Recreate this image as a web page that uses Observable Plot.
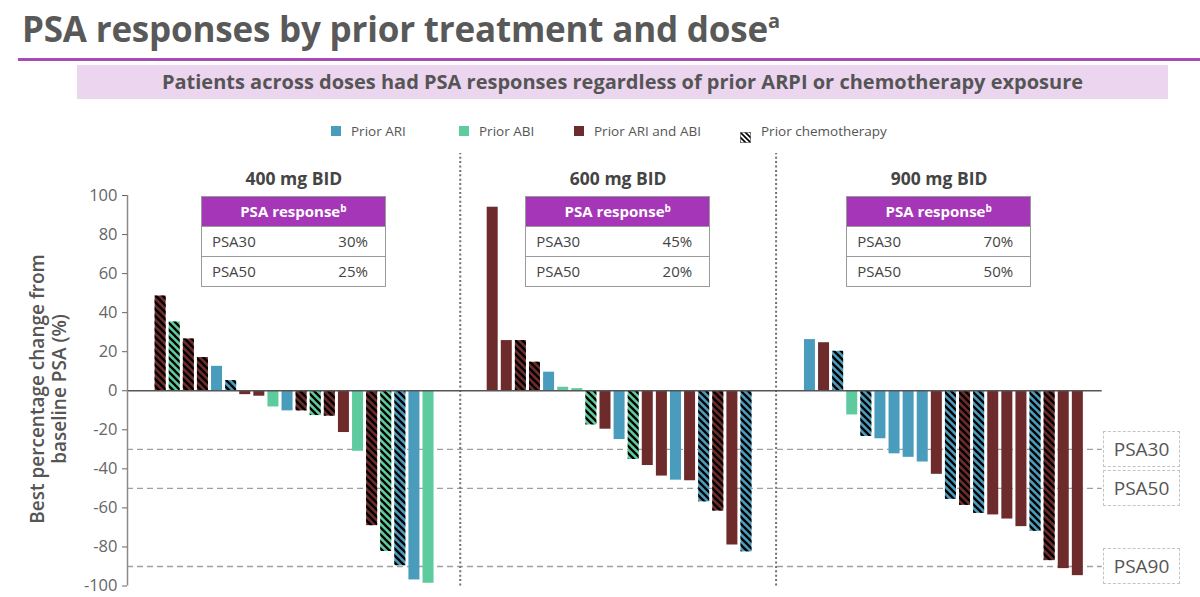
<!DOCTYPE html>
<html><head><meta charset="utf-8">
<script src="https://cdn.jsdelivr.net/npm/d3@7"></script>
<script src="https://cdn.jsdelivr.net/npm/@observablehq/plot@0.6"></script>
<style>
body{margin:0;background:#fff;font-family:"Open Sans",Lato,sans-serif;color:#555;}
#page{position:relative;width:1200px;height:597px;overflow:hidden;background:#fff;}
#title{position:absolute;left:22px;top:5px;font-size:35px;font-weight:700;color:#595959;white-space:nowrap;letter-spacing:-0.2px;}
#title sup{font-size:20px;vertical-align:top;position:relative;top:2px;}
#rule{position:absolute;left:18px;right:0;top:58px;height:3px;background:#a84bb8;}
#sub{position:absolute;left:77px;width:1091px;top:65px;height:34px;background:#ecd5ef;font-size:20px;font-weight:700;color:#555;text-align:center;line-height:33px;white-space:nowrap;}
.leg{position:absolute;top:121px;font-size:13.5px;color:#555;white-space:nowrap;line-height:20px;}
.sw{position:absolute;width:10px;height:10px;top:126px;}
#chart{position:absolute;left:0;top:140px;}
.tbl{position:absolute;width:185px;border:1px solid #9a9a9a;box-sizing:border-box;background:#fff;font-size:15px;color:#444;}
.tbl .hd{height:29px;background:#a536b7;color:#fff;font-weight:700;font-size:15px;text-align:center;line-height:29px;}
.tbl .hd sup{font-size:10px;vertical-align:top;position:relative;top:-3px;}
.tbl .rw{height:29px;line-height:29px;border-top:1px solid #9a9a9a;position:relative;padding-left:10px;}
.tbl .rw span{position:absolute;right:17px;}
.ref{position:absolute;left:1103px;width:77px;height:36px;box-sizing:border-box;border:1px dashed #c4c4c4;font-size:19px;color:#555;text-align:center;line-height:34px;background:#fff;}
#ylab{position:absolute;left:48px;top:389px;transform:translate(-50%,-50%) rotate(-90deg);font-size:19px;font-weight:600;color:#555;text-align:center;line-height:22px;white-space:nowrap;}
</style></head>
<body><div id="page">
<div id="title">PSA responses by prior treatment and dose<sup>a</sup></div>
<div id="rule"></div>
<div id="sub">Patients across doses had PSA responses regardless of prior ARPI or chemotherapy exposure</div>
<div id="ylab">Best percentage change from<br>baseline PSA (%)</div>
<div id="chart"></div>
</div>
<script>
// ---- data ----
const doses = ["400 mg BID", "600 mg BID", "900 mg BID"];
const priorCategories = ["Prior ARI", "Prior ABI", "Prior ARI and ABI"];
const priorColors = ["#4a9cbd", "#5ecb9e", "#6d2b2b"];
const chemoLabel = "Prior chemotherapy";

const values400 = [48.5, 35.2, 26.5, 17, 12.5, 5.2, -2, -2.8, -8.3, -10.3, -10.3, -12.7, -13, -21.4, -31, -69.1, -82.3, -89.6, -96.9, -98.6];
const prior400 = ["Prior ARI and ABI", "Prior ABI", "Prior ARI and ABI", "Prior ARI and ABI", "Prior ARI", "Prior ARI", "Prior ARI and ABI", "Prior ARI and ABI", "Prior ABI", "Prior ARI", "Prior ARI and ABI", "Prior ABI", "Prior ARI and ABI", "Prior ARI and ABI", "Prior ABI", "Prior ARI and ABI", "Prior ABI", "Prior ARI", "Prior ARI", "Prior ABI"];
const chemo400 = [1, 1, 1, 1, 0, 1, 0, 0, 0, 0, 1, 1, 1, 0, 0, 1, 1, 1, 0, 0];

const values600 = [94, 25.7, 25.7, 14.6, 9.5, 1.8, 1.1, -17.5, -19.7, -25, -35.2, -38.3, -43.7, -45.8, -46.1, -56.9, -61.6, -79, -82.5];
const prior600 = ["Prior ARI and ABI", "Prior ARI and ABI", "Prior ARI and ABI", "Prior ARI and ABI", "Prior ARI", "Prior ABI", "Prior ABI", "Prior ABI", "Prior ARI and ABI", "Prior ARI", "Prior ABI", "Prior ARI and ABI", "Prior ARI and ABI", "Prior ARI", "Prior ARI and ABI", "Prior ARI", "Prior ARI and ABI", "Prior ARI and ABI", "Prior ARI"];
const chemo600 = [0, 0, 1, 1, 0, 0, 0, 1, 0, 0, 1, 0, 0, 0, 0, 1, 1, 0, 1];

const values900 = [26.2, 24.6, 20.2, -12.4, -23.4, -24.6, -32.3, -34.1, -36.5, -42.8, -55.6, -58.7, -62.8, -63.6, -65.7, -69.6, -72, -87, -91.1, -94.7];
const prior900 = ["Prior ARI", "Prior ARI and ABI", "Prior ARI", "Prior ABI", "Prior ARI", "Prior ARI", "Prior ARI", "Prior ARI", "Prior ARI", "Prior ARI and ABI", "Prior ARI", "Prior ARI and ABI", "Prior ARI", "Prior ARI and ABI", "Prior ARI and ABI", "Prior ARI and ABI", "Prior ARI", "Prior ARI and ABI", "Prior ARI and ABI", "Prior ARI and ABI"];
const chemo900 = [0, 0, 1, 0, 1, 0, 0, 0, 0, 0, 1, 1, 1, 0, 0, 0, 1, 1, 0, 0];

const tableHeader = "PSA response";
const psa30 = ["30%", "45%", "70%"];
const psa50 = ["25%", "20%", "50%"];
const refLevels = [-30, -50, -90];
const refLabels = ["PSA30", "PSA50", "PSA90"];
const yTicks = [100, 80, 60, 40, 20, 0, -20, -40, -60, -80, -100];

// ---- layout ----
const W = 1200, H = 457, mL = 127, mR = 98.3, mT = 55, mB = 11.5;
const pitch = 14.1;
const xMax = (W - mL - mR) / pitch;
const panelFirst = [2.35, 25.9, 48.4];
const dividers = [23.6, 46.0];
const bounds = [0, ...dividers, xMax];
const barHalf = 0.39;

const panels = [[values400, prior400, chemo400], [values600, prior600, chemo600], [values900, prior900, chemo900]];
const rows = panels.flatMap(([v, p, c], k) => v.map((value, i) => ({
  dose: doses[k], value, prior: p[i], chemo: c[i] === 1, xc: panelFirst[k] + i
})));

const chart = Plot.plot({
  width: W, height: H, marginLeft: mL, marginRight: mR, marginTop: mT, marginBottom: mB,
  x: {domain: [0, xMax], axis: null},
  y: {domain: [-100, 100], axis: null},
  color: {domain: priorCategories, range: priorColors},
  style: {fontFamily: "'Open Sans', Lato, sans-serif", color: "#555", background: "transparent", overflow: "visible"},
  marks: [
    Plot.ruleY(refLevels, {x1: 0, x2: xMax, stroke: "#a0a0a0", strokeWidth: 1.3, strokeDasharray: "6,4"}),
    Plot.ruleX(dividers, {y1: -100, y2: 121.5, stroke: "#707070", strokeWidth: 2, strokeDasharray: "2,2.4"}),
    Plot.rect(rows, {x1: d => d.xc - barHalf, x2: d => d.xc + barHalf, y1: 0, y2: "value", fill: "prior"}),
    Plot.rect(rows.filter(d => d.chemo), {x1: d => d.xc - barHalf, x2: d => d.xc + barHalf, y1: 0, y2: "value", fill: "url(#hatch)"}),
    Plot.ruleY([0], {x1: 0, x2: xMax, stroke: "#555", strokeWidth: 1.5}),
    Plot.ruleX([0], {y1: -100, y2: 100, stroke: "#8a8a8a", strokeWidth: 1.5}),
    Plot.axisY(yTicks, {label: null, tickSize: 5, tickPadding: 5, fontSize: 16.5, tickFormat: d => String(d), color: "#666"}),
    Plot.text(doses, {x: (d, i) => (bounds[i] + bounds[i + 1]) / 2, frameAnchor: "top", dy: -23, fontSize: 17.5, fontWeight: "bold", fill: "#444"})
  ]
});

chart.insertAdjacentHTML("afterbegin",
  '<defs><pattern id="hatch" patternUnits="userSpaceOnUse" width="7" height="7">' +
  '<path d="M-1,-1L8,8M-1,6L1,8M6,-1L8,1" stroke="#000" stroke-width="2.3" fill="none"/></pattern></defs>');
document.getElementById("chart").appendChild(chart);

const page = document.getElementById("page");
const sx = chart.scale("x"), sy = chart.scale("y");
const top0 = 140;

// tables
doses.forEach((d, i) => {
  const cx = sx.apply((bounds[i] + bounds[i + 1]) / 2);
  const t = document.createElement("div");
  t.className = "tbl";
  t.style.left = (cx - 92.5) + "px";
  t.style.top = (top0 + sy.apply(100) + 1) + "px";
  t.innerHTML = `<div class="hd">${tableHeader}<sup>b</sup></div>` +
    `<div class="rw">PSA30<span>${psa30[i]}</span></div>` +
    `<div class="rw">PSA50<span>${psa50[i]}</span></div>`;
  page.appendChild(t);
});

// reference labels
refLevels.forEach((v, i) => {
  const b = document.createElement("div");
  b.className = "ref";
  b.style.top = (top0 + sy.apply(v) - 18) + "px";
  b.textContent = refLabels[i];
  page.appendChild(b);
});

// legend
const legX = [331, 459, 574];
priorCategories.forEach((c, i) => {
  const s = document.createElement("div");
  s.className = "sw"; s.style.left = legX[i] + "px"; s.style.background = priorColors[i];
  page.appendChild(s);
  const l = document.createElement("div");
  l.className = "leg"; l.style.left = (legX[i] + 20) + "px"; l.textContent = c;
  page.appendChild(l);
});
const hs = document.createElement("div");
hs.className = "sw"; hs.style.left = "740px";
hs.innerHTML = '<svg width="11" height="11"><defs><pattern id="hatchL" patternUnits="userSpaceOnUse" width="5" height="5"><path d="M-1,-1L6,6M-1,4L1,6M4,-1L6,1" stroke="#000" stroke-width="1.6"/></pattern></defs><rect x="0.5" y="0.5" width="10" height="10" fill="#fff" stroke="#999"/><rect x="0.5" y="0.5" width="10" height="10" fill="url(#hatchL)"/></svg>';
page.appendChild(hs);
const hl = document.createElement("div");
hl.className = "leg"; hl.style.left = "761px"; hl.textContent = chemoLabel;
page.appendChild(hl);
</script>
</body></html>
